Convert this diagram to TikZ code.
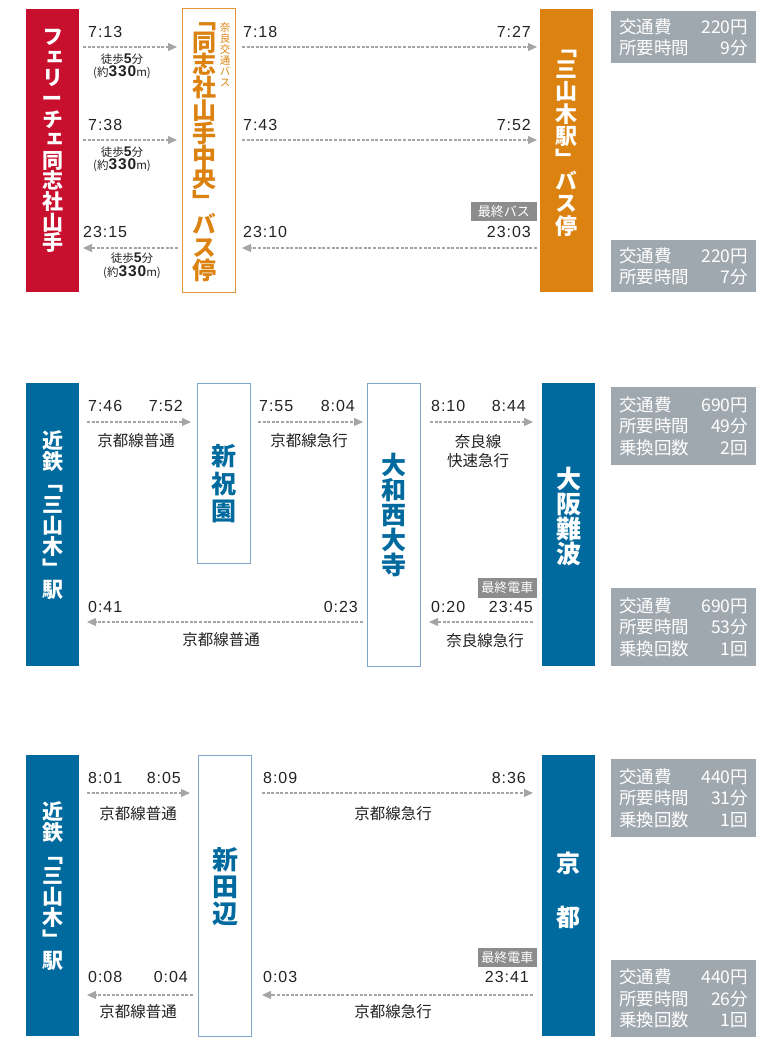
\documentclass[tikz,border=0pt]{standalone}
\usepackage{fontspec}
\setmainfont{Noto Sans CJK JP}
\newfontfamily\vjp[RawFeature=+vert]{Noto Sans CJK JP}
\newfontfamily\timefont[LetterSpace=6]{Liberation Sans}
\usetikzlibrary{arrows.meta}
\definecolor{ferryred}{HTML}{C8102E}
\definecolor{busorange}{HTML}{DC8210}
\definecolor{kinblue}{HTML}{006A9E}
\definecolor{edgeblue}{HTML}{7FA6C8}
\definecolor{infogray}{HTML}{A0A8AF}
\definecolor{lastgray}{HTML}{8C8C8C}
\definecolor{dashgray}{HTML}{A5A5A5}
\definecolor{inkgray}{HTML}{222222}
\newcommand\vfont[2]{\vjp\bfseries\fontsize{#1}{#2}\selectfont}
\newcommand\wk{徒歩{\timefont\bfseries\fontsize{14}{12}\selectfont 5}分\\(約{\timefont\bfseries\fontsize{15.5}{12}\selectfont 330}m)}
\newcommand\vbar{\rotatebox[origin=c]{90}{ー}}
\lineskiplimit=-30pt

\begin{document}
\begin{tikzpicture}[x=1pt,y=-1pt,
		box/.style={anchor=north west,inner sep=0,outer sep=0,minimum width=53},
		fillbox/.style={box,fill=#1},
		openbox/.style={box,draw=#1,line width=1},
		vname/.style={align=center,inner sep=0},
		tm/.style={inner sep=0,text=inkgray,font=\timefont\fontsize{16}{16}\selectfont},
		ln/.style={inner sep=0,text=inkgray,align=center,font=\fontsize{15.5}{19}\selectfont},
		walk/.style={inner sep=0,text=inkgray,align=center,font=\fontsize{11.5}{13.5}\selectfont},
		info/.style={anchor=north west,fill=infogray,text=white,minimum width=145,text width=129,inner xsep=8,inner ysep=0,align=left,font=\fontsize{17.5}{21.5}\selectfont},
		lastlbl/.style={anchor=south east,fill=lastgray,text=white,inner sep=0,minimum height=19,font=\fontsize{13}{13}\selectfont},
		tarrow/.style={draw=dashgray,line width=1.1,dash pattern=on 3pt off 1.6pt,-{Triangle[length=9pt,width=8pt]}}]
	\useasboundingbox (0,0) rectangle (780,1046);
	
	\node[fillbox=ferryred,minimum height=283] (ferry) at (26,9) {};
	\node[openbox=busorange!85,minimum height=283] (dsbus) at (182,9) {};
	\node[fillbox=busorange,minimum height=283] (mkbus) at (540,9) {};
	\node[vname,white,font=\vfont{21}{20.6}] (ferrytxt) at (52.5,141) {フ\\ェ\\リ\\\vbar\\チ\\ェ\\同\\志\\社\\山\\手};
	\node[vname,busorange,font=\vfont{24}{22.8}] (dsbustxt) at (204,152) {﹁\\同\\志\\社\\山\\手\\中\\央\\﹂\\バ\\ス\\停};
	\node[vname,busorange,font=\vjp\fontsize{10.5}{11}\selectfont] (narakotsu) at (225,55) {奈\\良\\交\\通\\バ\\ス};
	\node[vname,white,font=\vfont{22}{22.4}] (mkbustxt) at (566.5,143) {﹁\\三\\山\\木\\駅\\﹂\\バ\\ス\\停};
	\node[info,minimum height=52] (fee1a) at (611,11) {交通費\hfill 220円\\所要時間\hfill 9分};
	\node[info,minimum height=52] (fee1b) at (611,240) {交通費\hfill 220円\\所要時間\hfill 7分};
	
	\coordinate (p1r1) at (0,47);
	\coordinate (p1r2) at (0,140);
	\coordinate (p1r3) at (0,248);
	\foreach \r/\a/\b/\c in {p1r1/7:13/7:18/7:27,p1r2/7:38/7:43/7:52}{
		\draw[tarrow] ([xshift=4]ferry.east|-\r) -- ([xshift=-5]dsbus.west|-\r);
		\draw[tarrow] ([xshift=7]dsbus.east|-\r) -- ([xshift=-3]mkbus.west|-\r);
		\node[tm,anchor=west] (\r a) at ([xshift=9,yshift=15]ferry.east|-\r) {\a};
		\node[tm,anchor=west] (\r b) at ([xshift=8,yshift=15]dsbus.east|-\r) {\b};
		\node[tm,anchor=east] (\r c) at ([xshift=-9,yshift=15]mkbus.west|-\r) {\c};
		\node[walk] (\r w) at ([xshift=43,yshift=-19.5]ferry.east|-\r) {\wk};
	}
	\draw[tarrow] ([xshift=-4]dsbus.west|-p1r3) -- ([xshift=4]ferry.east|-p1r3);
	\draw[tarrow] ([xshift=-3]mkbus.west|-p1r3) -- ([xshift=7]dsbus.east|-p1r3);
	\node[tm,anchor=west] (t2315) at (83,232) {23:15};
	\node[tm,anchor=west] (t2310) at (243,232) {23:10};
	\node[tm,anchor=east] (t2303) at (531,232) {23:03};
	\node[walk] (p1r3w) at (132,266) {\wk};
	\node[lastlbl,minimum width=66] (lastbus) at (537,221) {最終バス};
	
	\node[fillbox=kinblue,minimum height=283] (kin1) at (26,383) {};
	\node[openbox=edgeblue,minimum height=180] (shihoso) at (197,383) {};
	\node[openbox=edgeblue,minimum height=283] (saidaiji) at (367,383) {};
	\node[fillbox=kinblue,minimum height=283] (namba) at (542,383) {};
	\node[vname,white,font=\vfont{21}{21.3}] (kin1txt) at (52.5,515) {近\\鉄\\﹁\\三\\山\\木\\﹂\\駅};
	\node[vname,kinblue,font=\vfont{25}{27.5}] (shihosotxt) at (224,484) {新\\祝\\園};
	\node[vname,kinblue,font=\vfont{25}{25}] (saidaijitxt) at (393.5,515) {大\\和\\西\\大\\寺};
	\node[vname,white,font=\vfont{25}{25}] (nambatxt) at (568.5,517) {大\\阪\\難\\波};
	\node[info,minimum height=78] (fee2a) at (611,387) {交通費\hfill 690円\\所要時間\hfill 49分\\乗換回数\hfill 2回};
	\node[info,minimum height=78] (fee2b) at (611,588) {交通費\hfill 690円\\所要時間\hfill 53分\\乗換回数\hfill 1回};
	
	\coordinate (p2r1) at (0,422);
	\coordinate (p2r2) at (0,622);
	\draw[tarrow] ([xshift=8]kin1.east|-p2r1) -- ([xshift=-6]shihoso.west|-p2r1);
	\draw[tarrow] ([xshift=8]shihoso.east|-p2r1) -- ([xshift=-4]saidaiji.west|-p2r1);
	\draw[tarrow] ([xshift=10]saidaiji.east|-p2r1) -- ([xshift=-9]namba.west|-p2r1);
	\draw[tarrow] ([xshift=-4]saidaiji.west|-p2r2) -- ([xshift=8]kin1.east|-p2r2);
	\draw[tarrow] ([xshift=-9]namba.west|-p2r2) -- ([xshift=9]saidaiji.east|-p2r2);
	\node[tm,anchor=west] (t746) at (88,406) {7:46};
	\node[tm,anchor=east] (t752) at (183,406) {7:52};
	\node[tm,anchor=west] (t755) at (259,406) {7:55};
	\node[tm,anchor=east] (t804) at (355,406) {8:04};
	\node[tm,anchor=west] (t810) at (431,406) {8:10};
	\node[tm,anchor=east] (t844) at (526,406) {8:44};
	\node[ln] (l2a) at (136,441) {京都線普通};
	\node[ln] (l2b) at (309,441) {京都線急行};
	\node[ln] (l2c) at (478,451) {奈良線\\快速急行};
	\node[tm,anchor=west] (t041) at (88,607) {0:41};
	\node[tm,anchor=east] (t023) at (358,607) {0:23};
	\node[tm,anchor=west] (t020) at (431,607) {0:20};
	\node[tm,anchor=east] (t2345) at (533,607) {23:45};
	\node[ln] (l2d) at (221,640) {京都線普通};
	\node[ln] (l2e) at (485,641) {奈良線急行};
	\node[lastlbl,minimum width=59,minimum height=20] (lasttrain1) at (537,598) {最終電車};
	
	\node[fillbox=kinblue,minimum height=281] (kin2) at (26,755) {};
	\node[openbox=edgeblue,minimum height=281] (tanabe) at (198,755) {};
	\node[fillbox=kinblue,minimum height=281] (kyoto) at (542,755) {};
	\node[vname,white,font=\vfont{21}{21.3}] (kin2txt) at (52.5,886) {近\\鉄\\﹁\\三\\山\\木\\﹂\\駅};
	\node[vname,kinblue,font=\vfont{26}{27}] (tanabetxt) at (225,887) {新\\田\\辺};
	\node[vname,white,font=\vfont{24}{54}] (kyototxt) at (568.5,890) {京\\都};
	\node[info,minimum height=78] (fee3a) at (611,759) {交通費\hfill 440円\\所要時間\hfill 31分\\乗換回数\hfill 1回};
	\node[info,minimum height=77] (fee3b) at (611,960) {交通費\hfill 440円\\所要時間\hfill 26分\\乗換回数\hfill 1回};
	
	\coordinate (p3r1) at (0,793);
	\coordinate (p3r2) at (0,995);
	\draw[tarrow] ([xshift=8]kin2.east|-p3r1) -- ([xshift=-8]tanabe.west|-p3r1);
	\draw[tarrow] ([xshift=11]tanabe.east|-p3r1) -- ([xshift=-9]kyoto.west|-p3r1);
	\draw[tarrow] ([xshift=-5]tanabe.west|-p3r2) -- ([xshift=8]kin2.east|-p3r2);
	\draw[tarrow] ([xshift=-9]kyoto.west|-p3r2) -- ([xshift=11]tanabe.east|-p3r2);
	\node[tm,anchor=west] (t801) at (88,778) {8:01};
	\node[tm,anchor=east] (t805) at (181,778) {8:05};
	\node[tm,anchor=west] (t809) at (263,778) {8:09};
	\node[tm,anchor=east] (t836) at (526,778) {8:36};
	\node[ln] (l3a) at (138,814) {京都線普通};
	\node[ln] (l3b) at (393,814) {京都線急行};
	\node[tm,anchor=west] (t008) at (88,977) {0:08};
	\node[tm,anchor=east] (t004) at (188,977) {0:04};
	\node[tm,anchor=west] (t003) at (263,977) {0:03};
	\node[tm,anchor=east] (t2341) at (529,977) {23:41};
	\node[ln] (l3c) at (138,1012) {京都線普通};
	\node[ln] (l3d) at (393,1012) {京都線急行};
	\node[lastlbl,minimum width=59] (lasttrain2) at (537,967) {最終電車};
\end{tikzpicture}
\end{document}
